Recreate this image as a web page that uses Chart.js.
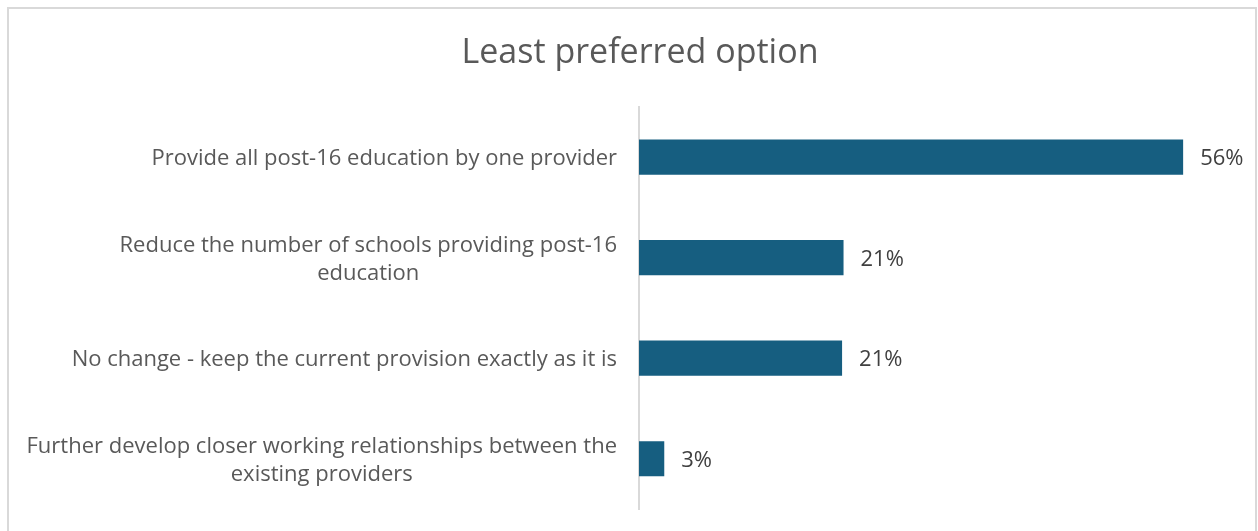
<!DOCTYPE html>
<html>
<head>
<meta charset="utf-8">
<script src="https://cdn.jsdelivr.net/npm/chart.js@4.4.1/dist/chart.umd.min.js"></script>
<style>
  html, body { margin: 0; padding: 0; background: #fff; overflow: hidden; }
  #frame { position: absolute; left: 7px; top: 7px; width: 1246px; height: 600px; border: 2px solid #d9d9d9; pointer-events: none; }
  #wrap { position: absolute; left: 0; top: 0; width: 1258px; height: 531px; }
</style>
</head>
<body>
<div id="wrap"><canvas id="myChart" width="1258" height="531"></canvas></div>
<div id="frame"></div>
<script>
// 데이터
const categories = [
  ['Provide all post-16 education by one provider'],
  ['Reduce the number of schools providing post-16', 'education'],
  ['No change - keep the current provision exactly as it is'],
  ['Further develop closer working relationships between the', 'existing providers']
];
const values = [56, 21.05, 20.9, 2.6];
const chartTitle = 'Least preferred option';

const FONT = "'Open Sans', 'Liberation Sans', sans-serif";
const TEXT = '#595959';

// 카테고리 라벨 (여러 줄 가운데 정렬)
const categoryLabels = {
  id: 'categoryLabels',
  afterDraw(chart) {
    const c = chart.ctx;
    const y = chart.scales.y;
    c.save();
    c.font = '22px ' + FONT;
    c.fillStyle = TEXT;
    c.textAlign = 'center';
    c.textBaseline = 'middle';
    const rightEdge = chart.chartArea.left - 22;
    categories.forEach((lines, i) => {
      const w = Math.max(...lines.map(l => c.measureText(l).width));
      const cx = rightEdge - w / 2;
      const cy = y.getPixelForValue(i) + 2;
      const lh = 28;
      lines.forEach((l, j) => {
        c.fillText(l, cx, cy + (j - (lines.length - 1) / 2) * lh);
      });
    });
    c.restore();
  }
};

// 값 라벨
const valueLabels = {
  id: 'valueLabels',
  afterDatasetsDraw(chart) {
    const c = chart.ctx;
    const meta = chart.getDatasetMeta(0);
    c.save();
    c.font = '22px ' + FONT;
    c.fillStyle = '#404040';
    c.textAlign = 'left';
    c.textBaseline = 'middle';
    meta.data.forEach((bar, i) => {
      c.fillText(Math.round(values[i]) + '%', bar.x + 17, bar.y + 2);
    });
    c.restore();
  }
};

const ctx = document.getElementById('myChart');
const chart = new Chart(ctx, {
  type: 'bar',
  data: {
    labels: categories.map(l => l.join(' ')),
    datasets: [{
      data: values,
      backgroundColor: '#165E80',
      borderWidth: 0,
      barPercentage: 0.35,
      categoryPercentage: 1
    }]
  },
  options: {
    indexAxis: 'y',
    responsive: false,
    animation: false,
    layout: { padding: { left: 58, right: 36, top: 10, bottom: 22 } },
    plugins: {
      legend: { display: false },
      tooltip: { enabled: false },
      title: {
        display: true,
        text: chartTitle,
        color: TEXT,
        font: { family: FONT, size: 34, weight: 'normal' },
        padding: { top: 23, bottom: 33 }
      }
    },
    scales: {
      x: { display: false, min: 0, max: 60 },
      y: {
        grid: { display: false, drawTicks: false },
        border: { display: true, color: '#d9d9d9', width: 2 },
        ticks: { display: false },
        afterFit(scale) { scale.width = 581; }
      }
    }
  },
  plugins: [categoryLabels, valueLabels]
});
</script>
</body>
</html>
